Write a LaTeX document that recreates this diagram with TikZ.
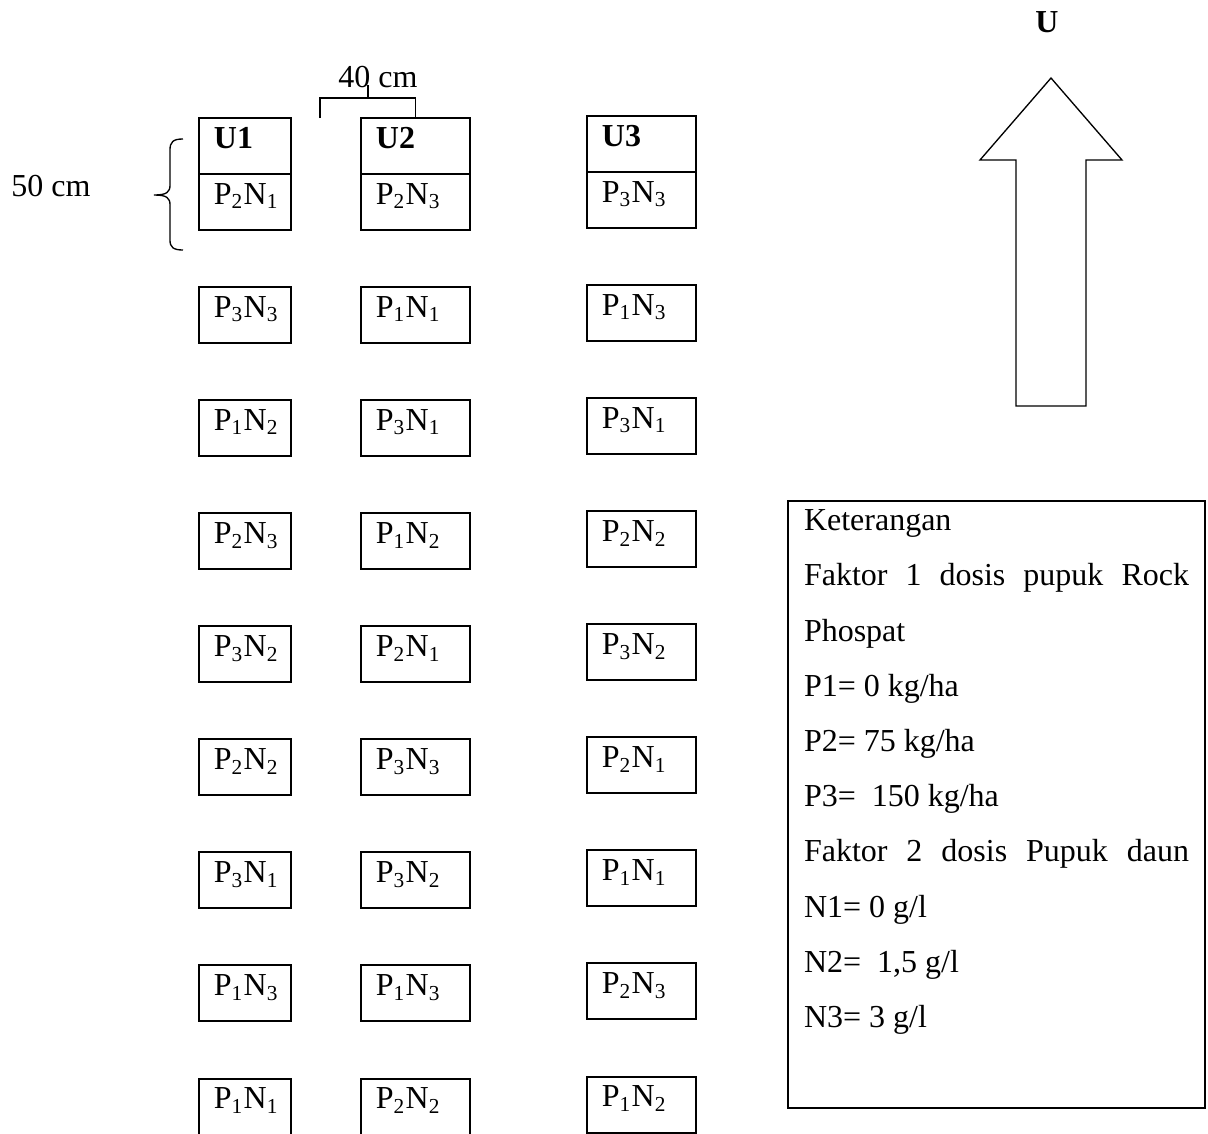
\documentclass[tikz,border=0pt,12pt]{standalone}
\usepackage{fontspec}
\setmainfont{Liberation Serif}
\usetikzlibrary{positioning}

\newcommand{\treat}[2]{P\textsubscript{#1}N\textsubscript{#2}}

\begin{document}
\begin{tikzpicture}[
        x=0.375pt, y=-0.375pt,
        node distance=21.4pt,
        cell/.style={draw, rectangle, line width=0.75pt, minimum height=21pt, inner xsep=5.6pt, inner ysep=0pt, outer sep=0pt, align=left, text height=8pt, text depth=6.5pt, font=\normalsize},
        cellnarrow/.style={cell, text width=23.3pt},
        cellwide/.style={cell, text width=29.5pt},
        headcell/.style={text depth=6pt, font=\normalsize\bfseries},
        bracket/.style={line width=0.5pt},
        legendbox/.style={draw, line width=0.75pt, anchor=north west, align=left, inner xsep=6pt, inner ysep=3.3pt, text depth=27pt, font=\fontsize{12}{20.7}\selectfont}
    ]
    \useasboundingbox (0,0) rectangle (1208,1133);
    \clip (0,0) rectangle (1208,1133);

    % ================= U1 =================
    \node[cellnarrow, headcell, anchor=north west] (u1) at (199,118) {U1};
    \node[cellnarrow, below=0pt of u1] (u1p1) {\treat21};
    \node[cellnarrow, below=of u1p1] (u1p2) {\treat33};
    \node[cellnarrow, below=of u1p2] (u1p3) {\treat12};
    \node[cellnarrow, below=of u1p3] (u1p4) {\treat23};
    \node[cellnarrow, below=of u1p4] (u1p5) {\treat32};
    \node[cellnarrow, below=of u1p5] (u1p6) {\treat22};
    \node[cellnarrow, below=of u1p6] (u1p7) {\treat31};
    \node[cellnarrow, below=of u1p7] (u1p8) {\treat13};
    \node[cellnarrow, below=of u1p8] (u1p9) {\treat11};

    % ================= U2 =================
    \node[cellwide, headcell, anchor=north west] (u2) at (361,118) {U2};
    \node[cellwide, below=0pt of u2] (u2p1) {\treat23};
    \node[cellwide, below=of u2p1] (u2p2) {\treat11};
    \node[cellwide, below=of u2p2] (u2p3) {\treat31};
    \node[cellwide, below=of u2p3] (u2p4) {\treat12};
    \node[cellwide, below=of u2p4] (u2p5) {\treat21};
    \node[cellwide, below=of u2p5] (u2p6) {\treat33};
    \node[cellwide, below=of u2p6] (u2p7) {\treat32};
    \node[cellwide, below=of u2p7] (u2p8) {\treat13};
    \node[cellwide, below=of u2p8] (u2p9) {\treat22};

    % ================= U3 =================
    \node[cellwide, headcell, anchor=north west] (u3) at (587,116) {U3};
    \node[cellwide, below=0pt of u3] (u3p1) {\treat33};
    \node[cellwide, below=of u3p1] (u3p2) {\treat13};
    \node[cellwide, below=of u3p2] (u3p3) {\treat31};
    \node[cellwide, below=of u3p3] (u3p4) {\treat22};
    \node[cellwide, below=of u3p4] (u3p5) {\treat32};
    \node[cellwide, below=of u3p5] (u3p6) {\treat21};
    \node[cellwide, below=of u3p6] (u3p7) {\treat11};
    \node[cellwide, below=of u3p7] (u3p8) {\treat23};
    \node[cellwide, below=of u3p8] (u3p9) {\treat12};

    % Spacing 40 cm
    \node[inner sep=0pt] (dist40) at (378,77) {40 cm};
    \coordinate (b40l) at (320,118);
    \coordinate (b40top) at (368,98);
    \coordinate (b40tick) at (368,85);
    \draw[bracket] (b40l) |- (b40top) -| (u2.north);
    \draw[bracket] (b40top) -- (b40tick);

    % Plot height 50 cm
    \node[inner sep=0pt] (dist50) at (51,186) {50 cm};
    \draw[bracket] (183,139) .. controls (173,139) and (170,142) .. (170,150) -- (170,185)
        .. controls (170,192) and (167,195) .. (154,195)
        .. controls (167,195) and (170,198) .. (170,205) -- (170,240)
        .. controls (170,247) and (173,250) .. (183,250);

    % ================= North arrow =================
    \node[inner sep=0pt, font=\normalsize\bfseries] (north) at (1047,22) {U};
    \draw[bracket, line join=miter] (1051,78) -- (1122,160) -- (1086,160) -- (1086,406)
        -- (1016,406) -- (1016,160) -- (980,160) -- cycle;

    % ================= Legend =================
    \node[legendbox] (legend) at (787,500) {Keterangan\\
        \makebox[144.4pt][s]{Faktor 1 dosis pupuk Rock}\\
        Phospat\\
        P1= 0 kg/ha\\
        P2= 75 kg/ha\\
        P3= \ 150 kg/ha\\
        \makebox[144.4pt][s]{Faktor 2 dosis Pupuk daun}\\
        N1= 0 g/l\\
        N2= \ 1,5 g/l\\
        N3= 3 g/l};

\end{tikzpicture}
\end{document}
